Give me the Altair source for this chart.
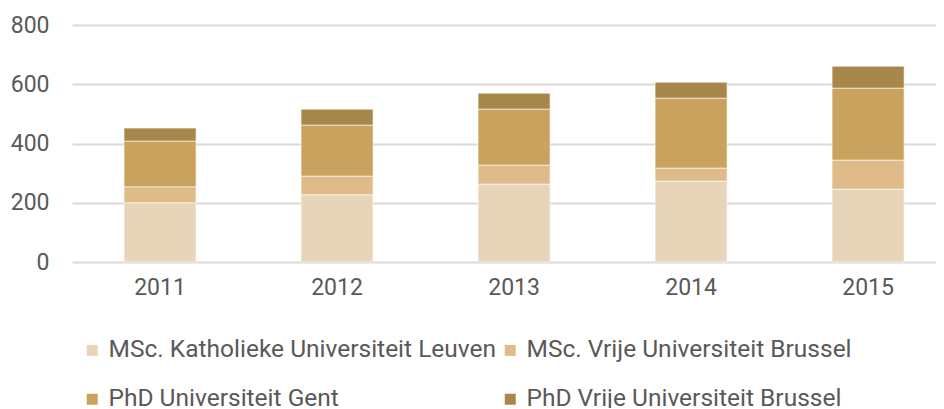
import altair as alt
import pandas as pd

years = ["2011", "2012", "2013", "2014", "2015"]
series = [
    "MSc. Katholieke Universiteit Leuven",
    "MSc. Vrije Universiteit Brussel",
    "PhD Universiteit Gent",
    "PhD Vrije Universiteit Brussel",
]
msc_kul = [200, 227, 263, 273, 246]
msc_vub = [54, 63, 64, 44, 98]
phd_ugent = [154, 172, 189, 236, 243]
phd_vub = [44, 54, 54, 54, 74]
colors = ["#E8D5B9", "#DEBB88", "#C9A35D", "#A8874B"]

rows = []
for i, y in enumerate(years):
    for k, (s, vals) in enumerate(zip(series, [msc_kul, msc_vub, phd_ugent, phd_vub])):
        rows.append({"year": y, "series": s, "value": vals[i], "order": k})
df = pd.DataFrame(rows)

chart = alt.Chart(df).mark_bar(stroke="white", strokeWidth=0.6).encode(
    x=alt.X("year:N", title=None,
            scale=alt.Scale(paddingInner=0.593, paddingOuter=0.237, align=0.62),
            axis=alt.Axis(labelAngle=0, labelFontSize=23, labelColor="#595959",
                          labelFont="Roboto", labelPadding=14, ticks=False,
                          domain=False, grid=False)),
    y=alt.Y("value:Q", title=None,
            scale=alt.Scale(domain=[0, 800], nice=False),
            axis=alt.Axis(values=[0, 200, 400, 600, 800], labelFontSize=23,
                          labelColor="#595959", labelFont="Roboto", labelPadding=23,
                          ticks=False, domain=False, gridColor="#D9D9D9",
                          gridWidth=2)),
    color=alt.Color("series:N", scale=alt.Scale(domain=series, range=colors),
                    legend=alt.Legend(title=None, orient="none", legendX=8, legendY=313,
                                      direction="horizontal",
                                      columns=2, symbolType="square", symbolSize=121,
                                      symbolStrokeWidth=0, labelFontSize=24.5,
                                      labelFont="Roboto", labelColor="#595959",
                                      labelLimit=500, rowPadding=24, columnPadding=1,
                                      labelOffset=4)),
    order=alt.Order("order:Q"),
).properties(
    width=864, height=237,
    autosize=alt.AutoSizeParams(type="none"),
    padding={"left": 64, "top": 17, "right": 0, "bottom": 146},
).configure_view(stroke=None)

chart.save("out.html", embed_options={"renderer": "svg", "actions": False})
